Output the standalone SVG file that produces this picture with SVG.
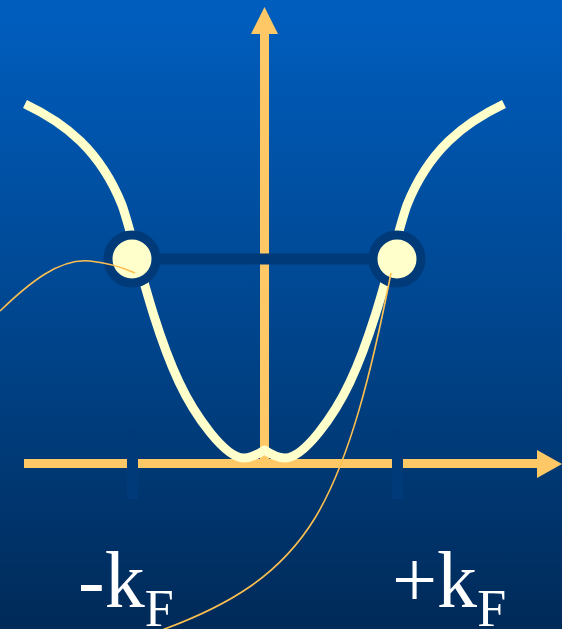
<svg xmlns="http://www.w3.org/2000/svg" width="562" height="629" viewBox="0 0 562 629">
<defs>
<linearGradient id="bg" x1="0" y1="0" x2="0" y2="1">
<stop offset="0" stop-color="#005EBF"/>
<stop offset="0.5" stop-color="#00468F"/>
<stop offset="1" stop-color="#002A58"/>
</linearGradient>
<style>
.axis{stroke:#FFC866;stroke-width:9;fill:none}
.head{fill:#FFC866}
.tick{stroke:#003A78;stroke-width:11}
.curve{stroke:#FFFFCC;stroke-width:9;fill:none;stroke-linecap:butt;stroke-linejoin:round}
.bar{stroke:#003A78;stroke-width:11}
.ring{fill:#FFFFCC;stroke:#003A78;stroke-width:9}
.thin{stroke:#FFC050;stroke-width:1.6;fill:none}
.lbl{font-family:"Liberation Serif","Times New Roman",serif;fill:#FFFFFF;font-size:80px}
</style>
</defs>
<rect width="562" height="629" fill="url(#bg)"/>
<g id="axes">
<line class="axis" x1="24" y1="463.5" x2="540" y2="463.5"/>
<polygon class="head" points="537,450 562,464 537,478"/>
<line class="axis" x1="264.5" y1="460" x2="264.5" y2="32"/>
<polygon class="head" points="251,34 264.5,7 278,34"/>
<line class="tick" x1="132.5" y1="428" x2="132.5" y2="499"/>
<line class="tick" x1="397.5" y1="428" x2="397.5" y2="499"/>
</g>
<g id="dispersion">
<path class="curve" d="M25,104 C65,123 100,150 122,205 C133,235 150,320 179,382 C195,416 225,458 244,458 C252,458 260,453 264.5,450 C269,453 277,458 285,458 C304,458 334,416 350,382 C379,320 396,235 407,205 C429,150 464,123 504,104"/>
</g>
<g id="fermi-bar">
<line class="bar" x1="132" y1="259" x2="397" y2="259"/>
</g>
<g id="node-left">
<circle class="ring" cx="132" cy="259" r="24"/>
</g>
<g id="node-right">
<circle class="ring" cx="397" cy="259" r="24"/>
</g>
<g id="connectors">
<path class="thin" d="M0,311 C30,282 60,258 90,261 C110,263 124,268 135,273"/>
<path class="thin" d="M391,273 C372,370 350,460 315,518 C280,575 230,605 162,630"/>
</g>
<g id="label-left">
<text class="lbl" x="78" y="607">-k<tspan font-size="52" dy="19">F</tspan></text>
</g>
<g id="label-right">
<text class="lbl" x="392" y="607">+k<tspan font-size="52" dy="19">F</tspan></text>
</g>
</svg>
